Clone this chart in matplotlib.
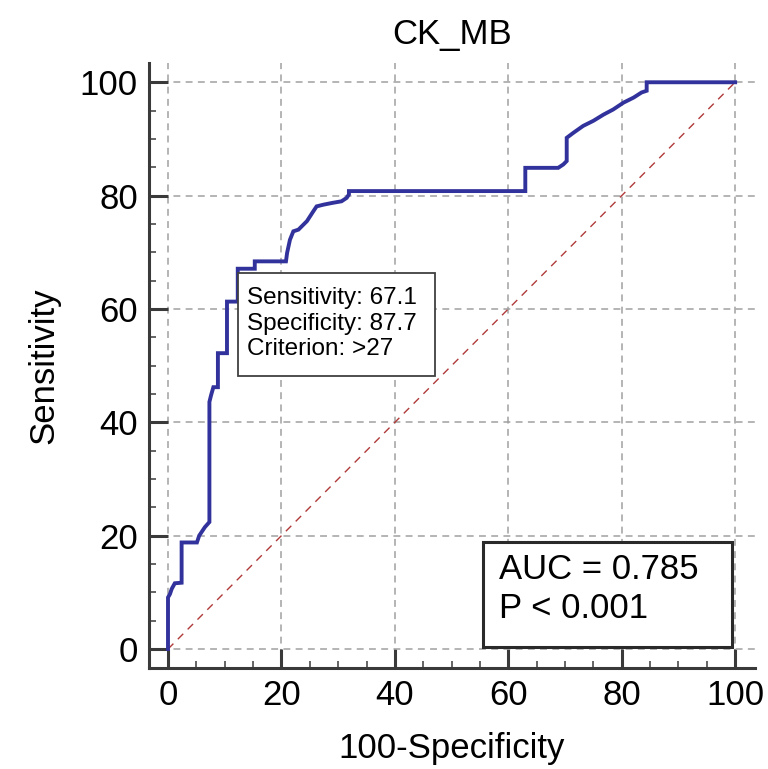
import matplotlib
matplotlib.use('Agg')
from matplotlib import pyplot as plt
from matplotlib.patches import Rectangle

plt.rcParams['font.family'] = ['Liberation Sans', 'DejaVu Sans']

# ROC curve vertices: 100-Specificity (%) vs Sensitivity (%)
fpr = [0, 0, 0.35, 0.65, 1.2, 2.4, 2.4, 5.1, 5.5, 5.9, 6.5, 7.3, 7.3, 7.6, 8.0,
       8.8, 8.8, 10.4, 10.4, 12.3, 12.3, 15.3, 15.3, 20.8, 21.0, 21.5, 22.1, 23.0,
       24.5, 25.6, 26.2, 27.4, 28.9, 30.6, 31.5, 31.9, 31.9, 63.0, 63.0, 68.8,
       69.7, 70.3, 70.3, 71.5, 73.2, 75.0, 76.8, 78.5, 80.3, 82.1, 83.5, 84.4,
       84.4, 100]
tpr = [0, 9.1, 9.7, 10.6, 11.6, 11.7, 18.8, 18.8, 20.0, 20.6, 21.5, 22.4, 43.6,
       44.8, 46.2, 46.2, 52.2, 52.2, 61.3, 61.3, 67.1, 67.1, 68.4, 68.4, 69.9,
       72.2, 73.7, 74.0, 75.5, 77.2, 78.1, 78.4, 78.7, 79.0, 79.6, 80.2, 80.8,
       80.8, 84.9, 84.9, 85.5, 86.1, 90.2, 91.1, 92.3, 93.2, 94.3, 95.2, 96.4,
       97.3, 98.2, 98.5, 100, 100]

title = 'CK_MB'
sens_cut = 67.1
spec_cut = 87.7
criterion = '>27'
auc = 0.785
p_text = 'P < 0.001'

fig = plt.figure(figsize=(7.68, 7.69), dpi=100)
ax = fig.add_axes([149/768, 1 - 668/769, (755 - 149)/768, (668 - 63)/769])

# chance line
ax.plot([0, 100], [0, 100], color='#b03a3a', lw=1.0, linestyle=(0, (5.5, 4.5)), zorder=2)
ax.plot(fpr, tpr, color='#32329c', lw=2.8, solid_joinstyle='miter', zorder=3)

ax.set_xlim(-3.35, 103.5)
ax.set_ylim(-3.35, 103.4)
ax.set_xticks(range(0, 101, 20))
ax.set_yticks(range(0, 101, 20))
ax.set_xticks(range(0, 101, 5), minor=True)
ax.set_yticks(range(0, 101, 5), minor=True)

for s in ['top', 'right']:
    ax.spines[s].set_visible(False)
for s in ['left', 'bottom']:
    ax.spines[s].set_linewidth(2.2)
    ax.spines[s].set_color('#3a3a3a')

ax.tick_params(which='major', direction='in', length=13.5, width=2.2, color='#3a3a3a',
               labelsize=25, pad=8)
ax.tick_params(which='minor', direction='in', length=5, width=1.1, color='#3a3a3a')
ax.grid(which='major', color='#a0a0a0', lw=1.1, linestyle=(0, (4.5, 3.5)))
ax.set_axisbelow(True)

ax.set_title(title, fontsize=25, pad=14)
ax.set_xlabel('100-Specificity', fontsize=25, labelpad=14)
ax.set_ylabel('Sensitivity', fontsize=25, labelpad=14)

# criterion box at the cut-off point
crit_x = 100 - spec_cut
ax.add_patch(Rectangle((crit_x, 48.2), 47.1 - crit_x, 66.4 - 48.2, facecolor='white',
                       edgecolor='#404040', lw=1.3, zorder=4))
ax.text(crit_x + 1.7, 57.4,
        'Sensitivity: %.1f\nSpecificity: %.1f\nCriterion: %s' % (sens_cut, spec_cut, criterion),
        fontsize=17.5, va='center', ha='left', linespacing=1.2, zorder=5)

# AUC box
ax.add_patch(Rectangle((55.6, 0.35), 99.5 - 55.6, 18.9 - 0.35, facecolor='white',
                       edgecolor='#2a2a2a', lw=2.2, zorder=4))
ax.text(58.3, 10.6, 'AUC = %.3f\n%s' % (auc, p_text), fontsize=25, va='center',
        ha='left', linespacing=1.2, zorder=5)

fig.savefig('out.png', dpi=100)
